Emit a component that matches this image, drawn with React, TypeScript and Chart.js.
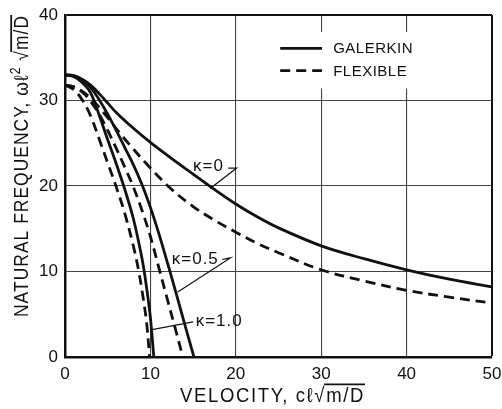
import { useEffect, useRef } from "react";
import { Chart, registerables } from "chart.js";

Chart.register(...registerables);

// ---- Data (velocity c·l·sqrt(m/D) vs natural frequency) ----
const galerkinK0Vel = [0, 1, 2, 3, 4, 5, 6, 7.5, 10, 12.5, 15, 17.5, 20, 22.5, 25, 30, 35, 40, 45, 50];
const galerkinK0Freq = [33, 32.9, 32.5, 31.8, 30.8, 29.7, 28.6, 27.2, 25.1, 23.2, 21.4, 19.6, 17.9, 16.4, 15.1, 13.0, 11.5, 10.2, 9.1, 8.2];

const flexibleK0Vel = [0, 1, 2, 3, 4, 5, 6, 7.5, 10, 12.5, 15, 17.5, 20, 22.5, 25, 30, 35, 40, 45, 50];
const flexibleK0Freq = [31.8, 31.6, 31.1, 30.3, 29.2, 28, 26.7, 24.9, 22.1, 19.6, 17.6, 16, 14.6, 13.3, 12.2, 10.2, 8.9, 7.8, 7.0, 6.3];

const galerkinK05Vel = [0, 1, 2, 3, 4, 5, 6, 7, 8, 9, 10, 11, 12, 13, 14, 15.1];
const galerkinK05Freq = [33, 32.9, 32.4, 31.5, 30.1, 28.4, 26.5, 24.5, 22.5, 20.2, 17.5, 14.4, 11, 7.5, 3.9, 0];

const flexibleK05Vel = [0, 1, 2, 3, 4, 5, 6, 7, 8, 9, 10, 11, 12, 13, 13.8];
const flexibleK05Freq = [31.8, 31.6, 31, 29.9, 28.4, 26.5, 24.4, 22.2, 19.9, 17.2, 14.1, 10.4, 6.7, 3, 0];

const galerkinK1Vel = [0, 1, 2, 3, 4, 5, 6, 7, 8, 9, 9.5, 10, 10.4];
const galerkinK1Freq = [33, 32.8, 32.1, 30.9, 28.3, 25.4, 22.6, 19.6, 16.2, 11.6, 8.5, 4.6, 0];

const flexibleK1Vel = [0, 1, 2, 3, 4, 5, 6, 7, 8, 8.6, 9.2, 9.6, 9.9];
const flexibleK1Freq = [31.8, 31.3, 30.1, 28.2, 25.5, 22.7, 19.9, 16.8, 13, 10.2, 6.6, 3.6, 0];

const xTickStep = 10;
const yTickStep = 10;

const kappaLabels = ["\u03BA=0", "\u03BA=0.5", "\u03BA=1.0"];
// label anchor (data units) and leader polylines (data units)
const kappaLabelPos = [
  [15.0, 22.3],
  [12.5, 11.4],
  [15.3, 4.2],
];
const kappaLeaders = [
  [[19.1, 22.1], [20.1, 22.1], [17.0, 19.7]],
  [[18.4, 11.4], [19.4, 11.6], [13.2, 7.6]],
  [[15.0, 4.1], [10.2, 3.2]],
];

const legendLabels = ["GALERKIN", "FLEXIBLE"];
const xTitle = ["VELOCITY, c\u2113", "\u221A", "m/D"];
const yTitle = ["NATURAL FREQUENCY, \u03C9\u2113", "2", "\u221A", "m/D"];

const FONT = '"Liberation Sans", Arial, sans-serif';
const INK = "#111";

const pts = (xs: number[], ys: number[]) => xs.map((x, i) => ({ x, y: ys[i] }));

type Part = { t: string; size: number; dy?: number; over?: boolean };

const decor = {
  id: "decor",
  beforeDatasetsDraw(chart: any) {
    const { ctx, scales } = chart;
    const X = (v: number) => scales.x.getPixelForValue(v);
    const Y = (v: number) => scales.y.getPixelForValue(v);
    ctx.save();
    ctx.fillStyle = "#fff";
    ctx.fillRect(X(24.2), Y(38), X(41.6) - X(24.2), Y(31.4) - Y(38));
    ctx.strokeStyle = INK;
    ctx.lineWidth = 2.8;
    ctx.beginPath();
    ctx.moveTo(X(25.2), Y(36.1));
    ctx.lineTo(X(30.1), Y(36.1));
    ctx.stroke();
    ctx.setLineDash([10, 6]);
    ctx.beginPath();
    ctx.moveTo(X(25.2), Y(33.5));
    ctx.lineTo(X(30.1), Y(33.5));
    ctx.stroke();
    ctx.setLineDash([]);
    ctx.fillStyle = INK;
    ctx.font = `15px ${FONT}`;
    (ctx as any).letterSpacing = "0.5px";
    ctx.textBaseline = "middle";
    ctx.textAlign = "left";
    ctx.fillText(legendLabels[0], X(31.4), Y(36.1) + 1);
    ctx.fillText(legendLabels[1], X(31.4), Y(33.5) + 1);
    ctx.restore();
  },
  afterDraw(chart: any) {
    const { ctx, scales } = chart;
    const X = (v: number) => scales.x.getPixelForValue(v);
    const Y = (v: number) => scales.y.getPixelForValue(v);
    ctx.save();
    ctx.fillStyle = INK;
    ctx.strokeStyle = INK;
    ctx.font = `17px ${FONT}`;
    (ctx as any).letterSpacing = "1px";
    ctx.textBaseline = "middle";
    ctx.textAlign = "left";
    kappaLabels.forEach((t, i) => {
      ctx.fillText(t, X(kappaLabelPos[i][0]), Y(kappaLabelPos[i][1]));
    });
    ctx.lineWidth = 1.2;
    kappaLeaders.forEach((line) => {
      ctx.beginPath();
      line.forEach(([a, b], j) => (j === 0 ? ctx.moveTo(X(a), Y(b)) : ctx.lineTo(X(a), Y(b))));
      ctx.stroke();
    });

    const measure = (parts: Part[]) =>
      parts.reduce((acc, p) => {
        ctx.font = `${p.size}px ${FONT}`;
        return acc + ctx.measureText(p.t).width;
      }, 0);
    const drawTitle = (parts: Part[]) => {
      let cx = 0;
      parts.forEach((p) => {
        ctx.font = `${p.size}px ${FONT}`;
        const w = ctx.measureText(p.t).width;
        ctx.fillText(p.t, cx, p.dy || 0);
        if (p.over) {
          ctx.lineWidth = 1.5;
          ctx.beginPath();
          ctx.moveTo(cx - 2, -p.size * 0.86);
          ctx.lineTo(cx + w, -p.size * 0.86);
          ctx.stroke();
        }
        cx += w;
      });
    };
    ctx.textBaseline = "alphabetic";

    const xParts: Part[] = [
      { t: xTitle[0], size: 17 },
      { t: xTitle[1], size: 17 },
      { t: xTitle[2], size: 17, over: true },
    ];
    (ctx as any).letterSpacing = "1.5px";
    const xw = measure(xParts);
    ctx.save();
    ctx.translate(180, 402);
    ctx.scale(185 / xw, 1.2);
    drawTitle(xParts);
    ctx.restore();

    const yParts: Part[] = [
      { t: yTitle[0], size: 17 },
      { t: yTitle[1], size: 12, dy: -7 },
      { t: " " + yTitle[2], size: 17 },
      { t: yTitle[3], size: 17, over: true },
    ];
    (ctx as any).letterSpacing = "1px";
    const yw = measure(yParts);
    ctx.save();
    ctx.translate(28, 317);
    ctx.rotate(-Math.PI / 2);
    ctx.scale(302 / yw, 1.15);
    drawTitle(yParts);
    ctx.restore();
    ctx.restore();
  },
};

export default function App() {
  const ref = useRef<HTMLCanvasElement>(null);
  useEffect(() => {
    if (!ref.current) return;
    const solid = (data: any) => ({
      data,
      borderColor: INK,
      borderWidth: 2.8,
      pointRadius: 0,
      showLine: true,
      fill: false,
      tension: 0.35,
    });
    const dashed = (data: any) => ({ ...solid(data), borderDash: [10, 6] });
    const boundaryColor = (max: number) => (c: any) =>
      c.tick && c.tick.value === max ? INK : "#444";
    const boundaryWidth = (max: number) => (c: any) =>
      c.tick && c.tick.value === max ? 2 : 1.1;
    const chart = new Chart(ref.current, {
      type: "scatter",
      data: {
        datasets: [
          solid(pts(galerkinK0Vel, galerkinK0Freq)),
          dashed(pts(flexibleK0Vel, flexibleK0Freq)),
          solid(pts(galerkinK05Vel, galerkinK05Freq)),
          dashed(pts(flexibleK05Vel, flexibleK05Freq)),
          solid(pts(galerkinK1Vel, galerkinK1Freq)),
          dashed(pts(flexibleK1Vel, flexibleK1Freq)),
        ],
      },
      options: {
        animation: false,
        responsive: true,
        maintainAspectRatio: false,
        layout: { padding: { top: 15, right: 10, left: 0, bottom: 0 } },
        plugins: { legend: { display: false }, tooltip: { enabled: false } },
        scales: {
          x: {
            type: "linear",
            min: 0,
            max: 50,
            ticks: { stepSize: xTickStep, color: INK, font: { size: 17, family: FONT }, padding: 7 },
            grid: { color: boundaryColor(50), lineWidth: boundaryWidth(50), drawTicks: false },
            border: { color: INK, width: 2.5 },
            afterFit: (s: any) => {
              s.height = 52;
              s.paddingLeft = 0;
              s.paddingRight = 0;
            },
          },
          y: {
            type: "linear",
            min: 0,
            max: 40,
            ticks: { stepSize: yTickStep, color: INK, font: { size: 17, family: FONT }, padding: 7 },
            grid: { color: boundaryColor(40), lineWidth: boundaryWidth(40), drawTicks: false },
            border: { color: INK, width: 2.5 },
            afterFit: (s: any) => {
              s.width = 65;
              s.paddingTop = 0;
              s.paddingBottom = 0;
            },
          },
        },
      },
      plugins: [decor],
    });
    return () => chart.destroy();
  }, []);
  return (
    <div style={{ position: "absolute", left: 0, top: 0, width: 502, height: 409, background: "#fff" }}>
      <canvas ref={ref} />
    </div>
  );
}
